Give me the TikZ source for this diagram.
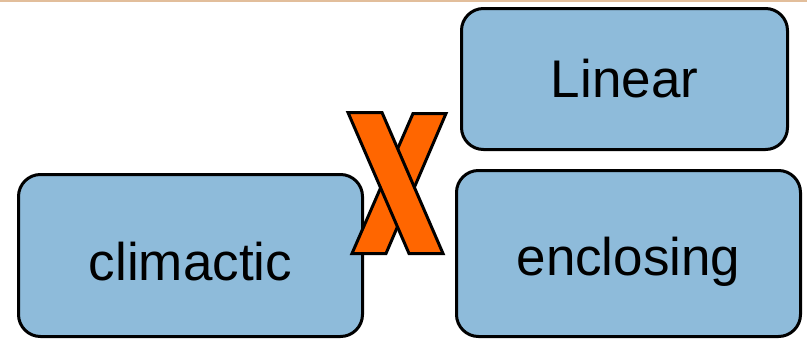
\documentclass[tikz,border=0pt]{standalone}
\usepackage{fontspec}
\setmainfont{Liberation Sans}
\definecolor{boxblue}{RGB}{142,187,218}
\definecolor{xorange}{RGB}{255,102,0}
\definecolor{topline}{RGB}{226,190,155}

\begin{document}
\begin{tikzpicture}[x=1pt, y=-1pt,
  box/.style={draw, fill=boxblue, line width=3pt, rounded corners=22pt, font=\fontsize{53}{60}\selectfont, text depth=0pt, inner sep=0pt},
  bar/.style={draw, fill=xorange, line width=3pt}]
\useasboundingbox (0,0) rectangle (807,343);
\draw[topline, line width=1.5pt] (0,.75) -- (807,.75);
\node[box, minimum width=326pt, minimum height=141pt, text height=37pt] (linear) at (624.5,79) {Linear};
\node[box, minimum width=344pt, minimum height=166pt, text height=43pt] (enclosing) at (628.5,253.5) {enclosing};
\node[box, minimum width=344pt, minimum height=162pt, text height=49pt] (climactic) at (190.5,255.5) {climactic};
\draw[bar] (413,113.5) -- (446,113.5) -- (386,253.5) -- (352,253.5) -- cycle;
\draw[bar] (348,112.5) -- (382,112.5) -- (443,253.5) -- (409,253.5) -- cycle;
\end{tikzpicture}
\end{document}
